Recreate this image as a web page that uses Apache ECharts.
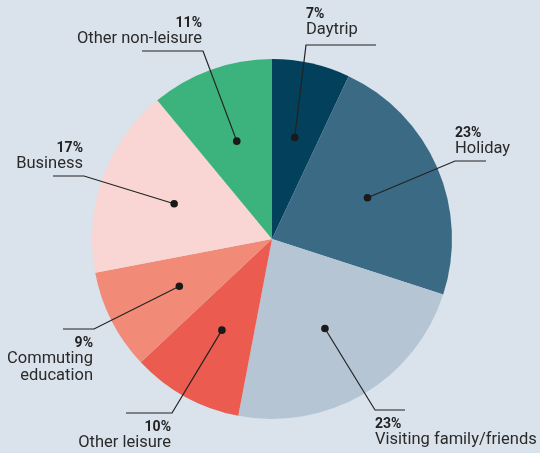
<!DOCTYPE html>
<html>
  <head>
    <meta charset="utf-8" />
    <title>Trip purpose</title>
    <script src="https://cdn.jsdelivr.net/npm/echarts@6/dist/echarts.min.js"></script>
    <style>
      body { margin: 0; background: #dae2eb; }
      #main { width: 540px; height: 453px; }
    </style>
  </head>
  <body>
    <div id="main"></div>
    <script type="text/javascript">
// data, clockwise from 12 o'clock
const names = ['Daytrip', 'Holiday', 'Visiting family/friends', 'Other leisure', 'Commuting\neducation', 'Business', 'Other non-leisure'];
const values = [7, 23, 23, 10, 9, 17, 11];
const colors = ['#03405c', '#3b6a85', '#b5c5d4', '#eb5b4f', '#f28a78', '#f9d6d4', '#3cb27d'];

// leader line layout: elbow point, end of horizontal stroke, text side
const elbows = [[306, 45], [455, 161], [375, 410], [172, 413], [94, 329], [84, 176], [203, 51]];
const lineEnds = [376, 486, 405, 126, 63, 53, 142];
const textAbove = [true, true, false, false, false, true, true];
const textRight = [true, true, true, false, false, false, false];

const center = [272, 239];
const R = 180;
const dotR = 104;

const total = values.reduce((a, b) => a + b, 0);
const mids = [];
let acc = 0;
for (let i = 0; i < values.length; i++) {
  mids.push(acc + values[i] / 2);
  acc += values[i];
}

var chart = echarts.init(document.getElementById('main'));

var option = {
  backgroundColor: '#dae2eb',
  textStyle: { fontFamily: 'Roboto' },
  polar: { center: center, radius: R },
  angleAxis: {
    type: 'value', min: 0, max: total, startAngle: 90, clockwise: true,
    show: false
  },
  radiusAxis: { type: 'value', min: 0, max: R, show: false },
  series: [
    {
      type: 'pie',
      z: 1,
      center: center,
      radius: R,
      startAngle: 90,
      clockwise: true,
      animation: false,
      silent: true,
      data: names.map(function (n, i) {
        return { name: n, value: values[i], itemStyle: { color: colors[i] } };
      }),
      label: {
        show: true,
        position: 'outside',
        overflow: 'none',
        formatter: '{p|{c}%}\n{n|{b}}',
        color: '#222',
        rich: {
          p: { fontSize: 14, fontWeight: 'bold', lineHeight: 13, color: '#222', fontFamily: 'Roboto' },
          n: { fontSize: 16.5, lineHeight: 17, color: '#2a2a2a', fontFamily: 'Roboto' }
        }
      },
      labelLine: { show: false },
      labelLayout: function (params) {
        const i = params.dataIndex;
        const e = elbows[i];
        return {
          x: textRight[i] ? e[0] : e[0] - 1,
          y: textAbove[i] ? e[1] - (i === 0 ? 7 : 4) : e[1] + 8,
          align: textRight[i] ? 'left' : 'right',
          verticalAlign: textAbove[i] ? 'bottom' : 'top'
        };
      }
    },
    {
      // dots inside the slices and their leader lines
      type: 'custom',
      coordinateSystem: 'polar',
      z: 10,
      clip: false,
      animation: false,
      silent: true,
      data: mids.map(function (m) { return [dotR, m]; }),
      renderItem: function (params, api) {
        const p = api.coord([api.value(0), api.value(1)]);
        const i = params.dataIndex;
        const e = elbows[i];
        return {
          type: 'group',
          children: [
            {
              type: 'polyline',
              shape: { points: [p, e, [lineEnds[i], e[1]]] },
              style: { stroke: '#222', lineWidth: 1.2, fill: null }
            },
            {
              type: 'circle',
              shape: { cx: p[0], cy: p[1], r: 3.8 },
              style: { fill: '#1a1a1a' }
            }
          ]
        };
      }
    }
  ]
};

chart.setOption(option);
    </script>
  </body>
</html>
